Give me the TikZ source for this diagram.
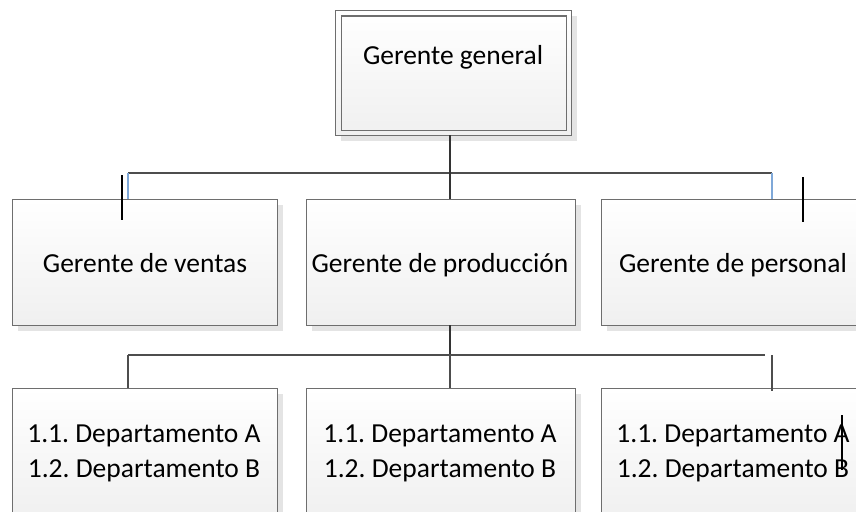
\documentclass[tikz,border=0pt]{standalone}
\usepackage{fontspec}
\setmainfont{Carlito}
\usetikzlibrary{shadows}
\definecolor{bordergray}{HTML}{6E6E6E}
\definecolor{linegray}{HTML}{4D4D4D}
\definecolor{stubblue}{HTML}{7FA8D8}
\definecolor{shadowgray}{HTML}{E4E4E4}
\frenchspacing
\begin{document}
\begin{tikzpicture}[x=1pt,y=-1pt,
  box/.style={draw=bordergray, line width=1.1pt, top color=white, bottom color=black!6,
    inner sep=0pt, anchor=north west,
    drop shadow={fill=shadowgray, opacity=1, shadow xshift=5pt, shadow yshift=-5pt}},
  innerbox/.style={draw=bordergray, line width=1.1pt, inner sep=0pt, anchor=center},
  lbl/.style={font=\fontsize{27.5}{34.5}\selectfont, anchor=base, inner sep=0pt, align=center},
  conn/.style={draw=linegray, line width=1.4pt},
  mainline/.style={draw=black!80, line width=1.6pt},
  stub/.style={draw=stubblue, line width=1.2pt},
  tick/.style={draw=black, line width=2.8pt},
  thinline/.style={draw=black, line width=1.3pt}]
\useasboundingbox (0,0) rectangle (856,511);
\clip (0,0) rectangle (856,511);
% top box
\node[box, minimum width=236pt, minimum height=125pt] (gg) at (335,10) {};
\node[innerbox, minimum width=225pt, minimum height=114pt] (ggin) at (gg.center) {};
\node[lbl] (ggt) at (453,65) {Gerente general};
% second row
\node[box, minimum width=265pt, minimum height=126pt] (ventas) at (12,199) {};
\node[box, minimum width=269pt, minimum height=126pt] (prod) at (306,199) {};
\node[box, minimum width=265pt, minimum height=126pt] (pers) at (601,199) {};
\node[lbl] (ventast) at (145,272) {Gerente de ventas};
\node[lbl] (prodt) at (440,272) {Gerente de producción};
\node[lbl] (perst) at (733,272) {Gerente de personal};
% third row
\node[box, minimum width=265pt, minimum height=130pt] (dA) at (12,388) {};
\node[box, minimum width=269pt, minimum height=130pt] (dB) at (306,388) {};
\node[box, minimum width=265pt, minimum height=130pt] (dC) at (601,388) {};
\node[lbl] (dAt) at (144,477) {1.1. Departamento A\\1.2. Departamento B};
\node[lbl] (dBt) at (440,477) {1.1. Departamento A\\1.2. Departamento B};
\node[lbl] (dCt) at (733,477) {1.1. Departamento A\\1.2. Departamento B};
% upper connectors
\coordinate (hl) at (128,173);
\coordinate (hr) at (772,173);
\coordinate (vt) at (450,135);
\draw[conn] (hl) -- (hr);
\draw[stub] (hl) -- (hl |- ventas.north);
\draw[stub] (hr) -- (hr |- pers.north);
\draw[mainline] (vt) -- (vt |- prod.north);
\coordinate (t1a) at (122,175);
\coordinate (t1b) at (122,220);
\coordinate (t2a) at (803,177);
\coordinate (t2b) at (803,222);
\draw[tick] (t1a) -- (t1b);
\draw[tick] (t2a) -- (t2b);
% lower connectors
\coordinate (vb) at (450,325);
\coordinate (bl) at (128,355);
\coordinate (bm) at (450,355);
\coordinate (br) at (765,355);
\coordinate (brv) at (772,355);
\draw[mainline] (vb) -- (bm);
\draw[conn] (bl) -- (br);
\draw[conn] (bl) -- (bl |- dA.north);
\draw[conn] (bm) -- (bm |- dB.north);
\draw[conn] (brv) -- (772,391);
% stray line
\coordinate (sa) at (842,415);
\coordinate (sb) at (842,470);
\draw[thinline] (sa) -- (sb);
\end{tikzpicture}
\end{document}
